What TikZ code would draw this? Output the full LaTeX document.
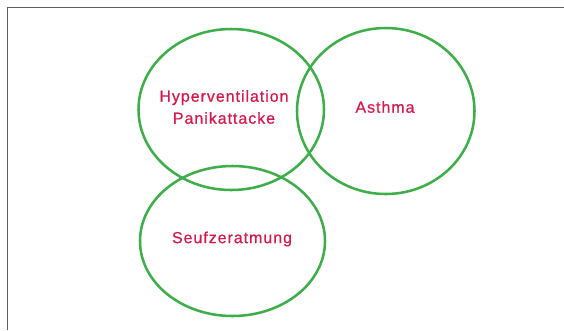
\documentclass[tikz,border=0pt]{standalone}
\usepackage{fontspec}
\setmainfont{Liberation Sans}[LetterSpace=6,FakeBold=0.6]
\definecolor{vgreen}{RGB}{61,174,73}
\definecolor{vred}{RGB}{214,24,74}
\definecolor{frame}{RGB}{95,95,95}
\begin{document}
\begin{tikzpicture}[x=0.75pt,y=-0.75pt,
  ring/.style={draw=vgreen,line width=1.9pt},
  lbl/.style={text=vred,font=\fontsize{12pt}{16.5pt}\selectfont,align=center,inner sep=0pt}]
\useasboundingbox (0,0) rectangle (564,330);
\coordinate (tl) at (7.5,7.5);
\coordinate (tr) at (564,7.5);
\coordinate (bl) at (7.5,330);
\draw[frame,line width=1.2pt] (tr) -- (tl) -- (bl);
\draw[ring] (231.25,109.5) ellipse [x radius=92.75, y radius=80.5];
\draw[ring] (385.75,111) ellipse [x radius=88.75, y radius=83];
\draw[ring] (232.5,241) ellipse [x radius=92.5, y radius=75];
\node[lbl] (hp) at (224,107) {Hyperventilation\\Panikattacke};
\node[lbl] (as) at (385,107) {Asthma};
\node[lbl] (sz) at (232,239) {Seufzeratmung};
\end{tikzpicture}
\end{document}
